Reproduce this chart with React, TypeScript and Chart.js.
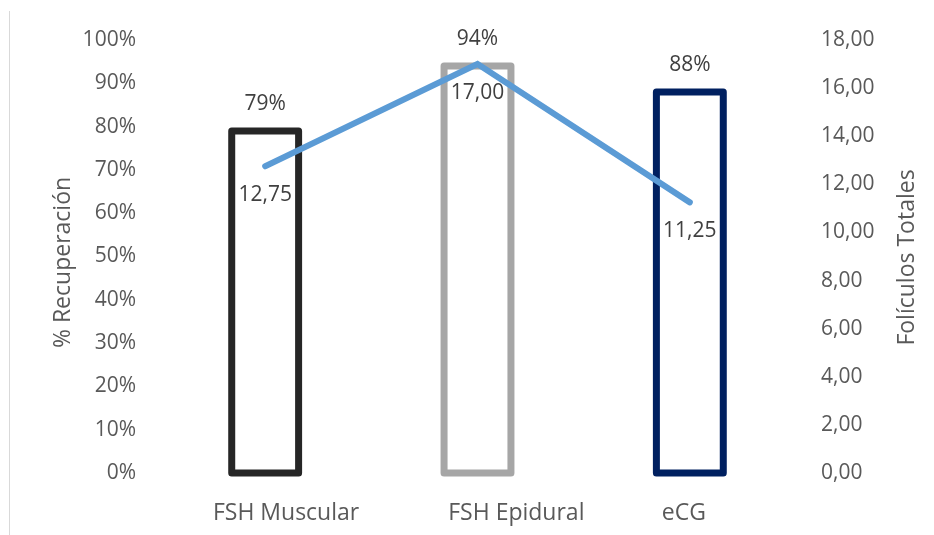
import React, { useEffect, useRef } from "react";
import { Chart, registerables } from "chart.js";

Chart.register(...registerables);

// Treatments (leading/trailing spaces keep each label where it sits under its bar)
const categories = ["       FSH Muscular", "             FSH Epidural", "eCG  "];
// % recovery per treatment (left axis)
const recoveryPct = [79, 94, 88];
// Total follicles per treatment (right axis)
const totalFollicles = [12.75, 17.0, 11.25];
const barColors = ["#262626", "#a6a6a6", "#002060"];
const lineColor = "#5b9bd5";

const FONT = "'Open Sans', 'Noto Sans', sans-serif";
const TICK_COLOR = "#595959";
const LABEL_COLOR = "#404040";

const fmtComma = (v: number) => v.toFixed(2).replace(".", ",");

// Outlined bars: stroke centred on the bar rectangle
const outlinedBars = {
  id: "outlinedBars",
  afterDatasetDraw(chart: any, args: any) {
    if (args.index !== 1) return;
    const { ctx } = chart;
    const meta = chart.getDatasetMeta(1);
    ctx.save();
    ctx.lineWidth = 7;
    ctx.lineJoin = "round";
    meta.data.forEach((el: any, i: number) => {
      const { x, y, base, width } = el.getProps(["x", "y", "base", "width"], true);
      ctx.strokeStyle = barColors[i];
      ctx.strokeRect(x - width / 2, y, width, base - y);
    });
    ctx.restore();
  },
};

// Value labels and rotated axis titles
const labelsAndTitles = {
  id: "labelsAndTitles",
  afterDatasetsDraw(chart: any) {
    const { ctx, chartArea } = chart;
    ctx.save();
    ctx.font = `21px ${FONT}`;
    ctx.fillStyle = LABEL_COLOR;
    ctx.textAlign = "center";
    ctx.textBaseline = "middle";
    chart.getDatasetMeta(1).data.forEach((el: any, i: number) => {
      ctx.fillText(`${recoveryPct[i]}%`, el.x, el.y - 27);
    });
    chart.getDatasetMeta(0).data.forEach((el: any, i: number) => {
      ctx.fillText(fmtComma(totalFollicles[i]), el.x, el.y + 29);
    });

    const midY = (chartArea.top + chartArea.bottom) / 2;
    ctx.font = `23px ${FONT}`;
    ctx.fillStyle = TICK_COLOR;
    ctx.save();
    ctx.translate(chart.scales.y.left + 63, midY + 6);
    ctx.rotate(-Math.PI / 2);
    ctx.fillText("% Recuperación", 0, 0);
    ctx.restore();
    ctx.save();
    ctx.translate(chart.scales.y1.right - 27, midY + 1);
    ctx.rotate(-Math.PI / 2);
    ctx.fillText("Folículos Totales", 0, 0);
    ctx.restore();
    ctx.restore();
  },
};

export default function App() {
  const canvasRef = useRef<HTMLCanvasElement>(null);

  useEffect(() => {
    if (!canvasRef.current) return;
    const chart = new Chart(canvasRef.current, {
      type: "bar",
      data: {
        labels: categories,
        datasets: [
          {
            type: "line",
            label: "Folículos Totales",
            data: totalFollicles,
            yAxisID: "y1",
            borderColor: lineColor,
            borderWidth: 6,
            borderCapStyle: "round",
            borderJoinStyle: "miter",
            pointRadius: 0,
            tension: 0,
            order: 0,
          } as any,
          {
            type: "bar",
            label: "% Recuperación",
            data: recoveryPct,
            yAxisID: "y",
            backgroundColor: "rgba(0,0,0,0)",
            borderWidth: 0,
            barPercentage: 0.315,
            categoryPercentage: 1,
            order: 1,
          },
        ],
      },
      options: {
        responsive: false,
        animation: false,
        layout: { padding: { top: 40, left: 0, right: 0, bottom: 0 } },
        plugins: {
          legend: { display: false },
          tooltip: { enabled: false },
        },
        scales: {
          x: {
            grid: { display: false, drawTicks: false },
            border: { display: false },
            ticks: {
              color: TICK_COLOR,
              font: { family: FONT, size: 23 },
              padding: 27,
              maxRotation: 0,
              autoSkip: false,
            },
            afterFit: (s: any) => {
              s.height = 62;
            },
          },
          y: {
            position: "left",
            min: 0,
            max: 100,
            grid: { display: false, drawTicks: false },
            border: { display: false },
            ticks: {
              stepSize: 10,
              color: TICK_COLOR,
              font: { family: FONT, size: 21 },
              padding: 23,
              callback: (v: any) => `${v}%`,
            },
            afterFit: (s: any) => {
              s.width = 159;
            },
          },
          y1: {
            position: "right",
            min: 0,
            max: 18,
            grid: { display: false, drawTicks: false },
            border: { display: false },
            ticks: {
              stepSize: 2,
              color: TICK_COLOR,
              font: { family: FONT, size: 21 },
              padding: 25,
              callback: (v: any) => fmtComma(Number(v)),
            },
            afterFit: (s: any) => {
              s.width = 138;
            },
          },
        },
      },
      plugins: [outlinedBars, labelsAndTitles],
    });
    return () => chart.destroy();
  }, []);

  return (
    <div style={{ position: "absolute", left: 0, top: 0, width: 934, height: 535, background: "#fff" }}>
      <div
        style={{
          position: "absolute",
          left: 9,
          top: 11,
          width: 0,
          height: 524,
          borderLeft: "1px solid #d9d9d9",
        }}
      />
      <canvas ref={canvasRef} width={934} height={535} style={{ position: "absolute", left: 0, top: 0 }} />
    </div>
  );
}
